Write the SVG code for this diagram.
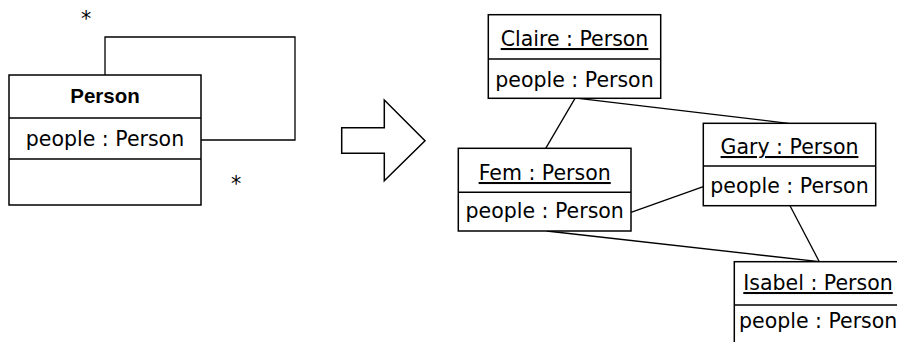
<svg xmlns="http://www.w3.org/2000/svg" width="897" height="342" viewBox="0 0 897 342">
<style>
.box{fill:#fff;stroke:#000;stroke-width:1.5}
.div{stroke:#000;stroke-width:1.5}
.ln{stroke:#000;stroke-width:1.3;fill:none}
text{font-family:"DejaVu Sans",sans-serif;font-size:20.5px;fill:#000}
.t{text-anchor:middle}
.u{text-decoration:underline}
.b{font-family:"Liberation Sans",Arial,sans-serif;font-weight:bold}
</style>
<rect width="897" height="342" fill="#fff"/>
<g id="connectors">
<polyline class="ln" points="105,75 105,37 295,37 295,140 201,140"/>
<line class="ln" x1="575" y1="98.3" x2="545.7" y2="148.3"/>
<line class="ln" x1="578.3" y1="98.3" x2="788.3" y2="123.3"/>
<line class="ln" x1="631" y1="212.3" x2="703.3" y2="186.7"/>
<line class="ln" x1="546.7" y1="231" x2="819.3" y2="261.7"/>
<line class="ln" x1="790" y1="205.7" x2="819.3" y2="261.7"/>
<text class="t" x="86" y="26">*</text>
<text class="t" x="236" y="191">*</text>
</g>
<g id="person-class">
<rect class="box" x="9" y="75" width="192" height="130"/>
<line class="div" x1="9" y1="118" x2="201" y2="118"/>
<line class="div" x1="9" y1="159" x2="201" y2="159"/>
<text class="t b" x="105" y="103">Person</text>
<text class="t" x="105" y="146">people : Person</text>
</g>
<g id="transform-arrow">
<polygon class="box" points="341.7,127.7 384.3,127.7 384.3,100 425,140.7 384.3,180.7 384.3,153.3 341.7,153.3"/>
</g>
<g id="claire">
<rect class="box" x="488.3" y="14.7" width="172.4" height="83.6"/>
<line class="div" x1="488.3" y1="59" x2="660.7" y2="59"/>
<text class="t u" x="574.5" y="46">Claire : Person</text>
<text class="t" x="574.5" y="86.5">people : Person</text>
</g>
<g id="fem">
<rect class="box" x="458.3" y="148.3" width="172.7" height="82.7"/>
<line class="div" x1="458.3" y1="192.3" x2="631" y2="192.3"/>
<text class="t u" x="544.7" y="180">Fem : Person</text>
<text class="t" x="544.7" y="218">people : Person</text>
</g>
<g id="gary">
<rect class="box" x="703.3" y="123.3" width="172.4" height="82.4"/>
<line class="div" x1="703.3" y1="166" x2="875.7" y2="166"/>
<text class="t u" x="789.5" y="154">Gary : Person</text>
<text class="t" x="789.5" y="193">people : Person</text>
</g>
<g id="isabel">
<rect class="box" x="734.3" y="261.7" width="172" height="100"/>
<line class="div" x1="734.3" y1="305" x2="906" y2="305"/>
<text class="u" x="743.3" y="290">Isabel : Person</text>
<text x="739" y="328">people : Person</text>
</g>
</svg>
